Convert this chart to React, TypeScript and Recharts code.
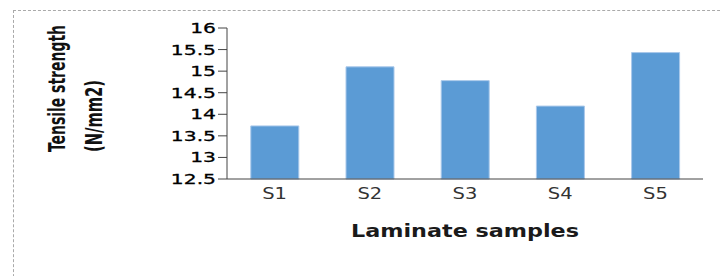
import { Bar, BarChart, XAxis, YAxis } from 'recharts'

const SAMPLES = ['S1', 'S2', 'S3', 'S4', 'S5']
const STRENGTH = [13.73, 15.1, 14.78, 14.19, 15.43]
const Y_TICKS = [12.5, 13, 13.5, 14, 14.5, 15, 15.5, 16]

const data = SAMPLES.map((name, i) => ({ name, strength: STRENGTH[i] }))

const BAR_BLUE = '#5b9bd5'

function YTick({ x, y, payload }: any) {
  return (
    <g transform={`translate(${x},${y})`}>
      <text
        transform="scale(1.4,1)"
        textAnchor="end"
        dy={5}
        fontFamily="DejaVu Sans"
        fontSize={14.5}
        fill="#000"
        stroke="#000"
        strokeWidth={0.3}
      >
        {payload.value}
      </text>
    </g>
  )
}

function XTick({ x, y, payload }: any) {
  return (
    <g transform={`translate(${x},${y})`}>
      <text
        transform="scale(1.3,1)"
        textAnchor="middle"
        dy={12}
        fontFamily="DejaVu Sans"
        fontSize={15}
        fill="#333"
      >
        {payload.value}
      </text>
    </g>
  )
}

function XTitle({ viewBox }: any) {
  const cx = viewBox.x + viewBox.width / 2
  return (
    <text
      x={cx}
      y={viewBox.y + 58}
      textAnchor="middle"
      fontFamily="DejaVu Sans"
      fontWeight="bold"
      fontSize={17}
      fill="#1a1a1a"
      textLength={228}
      lengthAdjust="spacingAndGlyphs"
    >
      Laminate samples
    </text>
  )
}

function YTitle() {
  const font = {
    fontFamily: 'Liberation Sans Narrow, DejaVu Sans Condensed, Liberation Sans',
    fontWeight: 'bold' as const,
    fontSize: 23,
    fill: '#111',
  }
  return (
    <g>
      <text transform="translate(65,152) rotate(-90)" textLength={127} lengthAdjust="spacingAndGlyphs" {...font}>
        Tensile strength
      </text>
      <text transform="translate(102,152) rotate(-90)" textLength={72} lengthAdjust="spacingAndGlyphs" {...font}>
        (N/mm2)
      </text>
    </g>
  )
}

export default function App() {
  return (
    <div style={{ position: 'absolute', left: 0, top: 0, width: 720, height: 276, background: '#fff', overflow: 'hidden' }}>
      <div
        style={{
          position: 'absolute',
          left: 13,
          top: 10,
          width: 740,
          height: 300,
          border: '1px dashed #aaa',
        }}
      />
      <div style={{ position: 'absolute', left: 0, top: 0 }}>
        <BarChart width={720} height={276} data={data} margin={{ top: 28, right: 17, bottom: 0, left: 0 }} barCategoryGap="25%">
          <XAxis
            dataKey="name"
            axisLine={{ stroke: '#444' }}
            tickLine={false}
            tick={<XTick />}
            height={97}
            label={<XTitle />}
          />
          <XAxis
            xAxisId="top"
            dataKey="name"
            orientation="top"
            height={0}
            tick={false}
            tickLine={false}
            axisLine={{ stroke: '#d9d9d9' }}
          />
          <YAxis
            domain={[12.5, 16]}
            ticks={Y_TICKS}
            width={227}
            interval={0}
            axisLine={{ stroke: '#444' }}
            tickLine={{ stroke: '#444' }}
            tickSize={9}
            tick={<YTick />}
            label={<YTitle />}
          />
          <YAxis
            yAxisId="right"
            orientation="right"
            domain={[12.5, 16]}
            width={0}
            tick={false}
            tickLine={false}
            axisLine={{ stroke: '#d9d9d9' }}
          />
          <Bar dataKey="strength" fill={BAR_BLUE} stroke="#a9c8ea" strokeWidth={1} isAnimationActive={false} />
        </BarChart>
      </div>
    </div>
  )
}
